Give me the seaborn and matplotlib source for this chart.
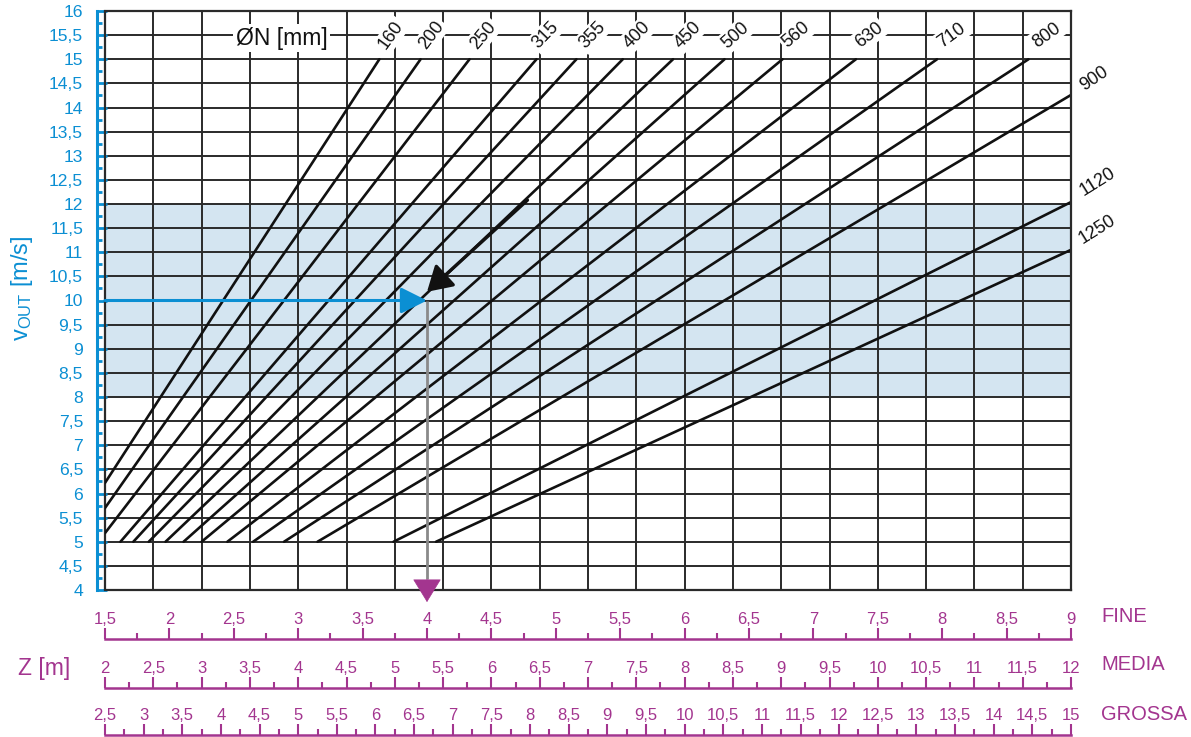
import numpy as np
import pandas as pd
import matplotlib
matplotlib.use("Agg")
import matplotlib.pyplot as plt
import seaborn as sns
from matplotlib.ticker import MultipleLocator, FuncFormatter

# ---------------------------------------------------------------- data
# Nominal diameter of the diffuser [mm]
diameters = [160, 200, 250, 315, 355, 400, 450, 500, 560, 630, 710, 800, 900, 1120, 1250]
# Throw Z on the FINE scale [m] and outlet velocity [m/s] at both ends of each curve
z_start = [1.50, 1.50, 1.50, 1.62, 1.72, 1.84, 1.97, 2.11, 2.25, 2.45, 2.65, 2.89, 3.15, 3.74, 4.07]
v_start = [6.22, 5.70, 5.18, 5.00, 5.00, 5.00, 5.00, 5.00, 5.00, 5.00, 5.00, 5.00, 5.00, 5.00, 5.00]
z_end = [3.63, 3.95, 4.33, 4.85, 5.16, 5.52, 5.91, 6.31, 6.76, 7.33, 7.96, 8.67, 9.00, 9.00, 9.00]
v_end = [15.0, 15.0, 15.0, 15.0, 15.0, 15.0, 15.0, 15.0, 15.0, 15.0, 15.0, 15.0, 14.26, 12.04, 11.05]

# Recommended outlet velocity band [m/s]
band_v = [8, 12]

# Worked example: v = 10 m/s, ØN 450 -> Z = 4 m (FINE)
example_v = 10.0
example_z = 4.0
example_pointer_from = (4.78, 12.08)
example_pointer_to = (4.00, 10.18)

# Throw scales for the three air-jet types [m]
fine_range = (1.5, 9.0)
media_range = (2.0, 12.0)
grossa_range = (2.5, 15.0)
scale_names = ["FINE", "MEDIA", "GROSSA"]

# ---------------------------------------------------------------- style
BLUE = "#0b8fd3"
PURPLE = "#a3358f"
BAND = "#d4e5f1"
GRID = "#2a2a2a"

sns.set_theme(style="white")
plt.rcParams["font.family"] = ["Liberation Sans", "DejaVu Sans"]
plt.rcParams["mathtext.fontset"] = "custom"
plt.rcParams["mathtext.rm"] = "Liberation Sans"
plt.rcParams["mathtext.it"] = "Liberation Sans:italic"

W, H = 1191, 737
fig = plt.figure(figsize=(W / 100, H / 100), dpi=100)


def px_rect(x0, y0, x1, y1):
    """Pixel box (origin top-left) -> figure-fraction rectangle."""
    return [x0 / W, 1 - y1 / H, (x1 - x0) / W, (y1 - y0) / H]


comma = FuncFormatter(lambda x, _: f"{x:g}".replace(".", ","))

# ---------------------------------------------------------------- main chart
ax = fig.add_axes(px_rect(105, 11, 1071, 590))
ax.set_xlim(*fine_range)
ax.set_ylim(4, 16)

ax.axhspan(band_v[0], band_v[1], color=BAND, lw=0, zorder=0)

ax.set_xticks(np.arange(fine_range[0], fine_range[1] + 1e-6, 0.375))
ax.yaxis.set_major_locator(MultipleLocator(0.5))
ax.yaxis.set_minor_locator(MultipleLocator(0.25))
ax.yaxis.set_major_formatter(comma)
ax.set_axisbelow(True)
ax.grid(True, which="major", color=GRID, lw=1.4)

ax.tick_params(axis="x", length=0, labelbottom=False)
ax.tick_params(axis="y", which="both", direction="in", color=BLUE, width=2.0,
               left=True, right=False, labelcolor=BLUE, labelsize=12.6, pad=10)
ax.tick_params(axis="y", which="major", length=7.5)
ax.tick_params(axis="y", which="minor", length=3.5)

for side in ["top", "right", "bottom"]:
    ax.spines[side].set_color(GRID)
    ax.spines[side].set_linewidth(1.6)
ax.spines["left"].set_position(("outward", 5.8))
ax.spines["left"].set_color(BLUE)
ax.spines["left"].set_linewidth(2.2)
ax.axvline(fine_range[0], color=GRID, lw=1.6, clip_on=False, zorder=1)

# diameter curves
rows = []
for d, z0, v0, z1, v1 in zip(diameters, z_start, v_start, z_end, v_end):
    rows.append({"dn": d, "Z": z0, "v": v0})
    rows.append({"dn": d, "Z": z1, "v": v1})
df = pd.DataFrame(rows)
sns.lineplot(data=df, x="Z", y="v", hue="dn", palette={d: "#111111" for d in diameters},
             estimator=None, sort=False, legend=False, lw=1.9, ax=ax, zorder=2)
ax.set_xlabel("")
ax.set_ylabel("")

# diameter labels
top_dx_px = [12, 11, 14, 9, 16, 14, 15, 11, 14, 13, 15, 18]
top_rot = [54, 53, 50, 46, 46, 45, 45, 42, 40, 38, 36, 36]
side_off_px = [(23, 16), (27, 20), (26, 20)]
side_rot = [34, 32, 32]
for i, d in enumerate(diameters):
    if v_end[i] >= 15:
        ax.annotate(str(d), xy=(z_end[i], 15.5), xytext=(top_dx_px[i] * 0.72, 0),
                    textcoords="offset points", ha="center", va="center",
                    rotation=top_rot[i], fontsize=13, color="#111111",
                    bbox=dict(boxstyle="square,pad=0.12", fc="white", ec="none"), zorder=4)
    else:
        j = i - 12
        ax.annotate(str(d), xy=(z_end[i], v_end[i]),
                    xytext=(side_off_px[j][0] * 0.72, side_off_px[j][1] * 0.72),
                    textcoords="offset points", ha="center", va="center",
                    rotation=side_rot[j], fontsize=13, color="#111111",
                    annotation_clip=False)

ax.text(2.87, 15.44, "ØN [mm]", fontsize=16.5, ha="center", va="center", color="#111111",
        bbox=dict(boxstyle="square,pad=0.1", fc="white", ec="none"), zorder=4)

# worked example
ax.annotate("", xy=(example_z, example_v), xytext=(fine_range[0], example_v),
            arrowprops=dict(arrowstyle="-|>,head_length=1.6,head_width=0.8", color=BLUE,
                            lw=2.2, shrinkA=0, shrinkB=0, mutation_scale=10), zorder=5)
ax.plot([example_z, example_z], [example_v, 4.22], color="#8a8a8a", lw=2.0, zorder=3,
        solid_capstyle="butt")
ax.annotate("", xy=(example_z, 3.75), xytext=(example_z, 4.22),
            arrowprops=dict(arrowstyle="-|>,head_length=1.55,head_width=0.95", color=PURPLE,
                            lw=0.5, shrinkA=0, shrinkB=0, mutation_scale=10),
            annotation_clip=False, zorder=5)
ax.annotate("", xy=example_pointer_to, xytext=example_pointer_from,
            arrowprops=dict(arrowstyle="-|>,head_length=1.5,head_width=0.9", color="#111111",
                            lw=2.4, shrinkA=0, shrinkB=0, mutation_scale=10), zorder=5)

fig.text(22 / W, 1 - 288 / H, r"v$_{\mathrm{OUT}}$ [m/s]", rotation=90, color=BLUE,
         fontsize=17, ha="center", va="center")

# ---------------------------------------------------------------- throw scales
for name, rng, base, label_y in zip(scale_names, [fine_range, media_range, grossa_range],
                                    [639, 688, 735], [617, 665, 714]):
    bax = fig.add_axes(px_rect(105, base - 11, 1071, base))
    bax.set_xlim(*rng)
    bax.set_ylim(0, 1)
    bax.patch.set_alpha(0)
    for side in ["top", "left", "right"]:
        bax.spines[side].set_visible(False)
    bax.spines["bottom"].set_color(PURPLE)
    bax.spines["bottom"].set_linewidth(1.8)
    bax.set_yticks([])
    bax.xaxis.set_major_locator(MultipleLocator(0.5))
    bax.xaxis.set_minor_locator(MultipleLocator(0.25))
    bax.xaxis.set_major_formatter(comma)
    bax.tick_params(axis="x", which="both", direction="in", color=PURPLE, width=1.5,
                    bottom=True, top=False, labelbottom=False, labeltop=True,
                    labelcolor=PURPLE, labelsize=12, pad=1)
    bax.tick_params(axis="x", which="major", length=8)
    bax.tick_params(axis="x", which="minor", length=4.3)
    fig.text(1101 / W, 1 - label_y / H, name, color=PURPLE, fontsize=14.5,
             ha="left", va="center")

fig.text(44 / W, 1 - 668 / H, "Z [m]", color=PURPLE, fontsize=16.5, ha="center", va="center")

fig.savefig("out.png", dpi=100)
